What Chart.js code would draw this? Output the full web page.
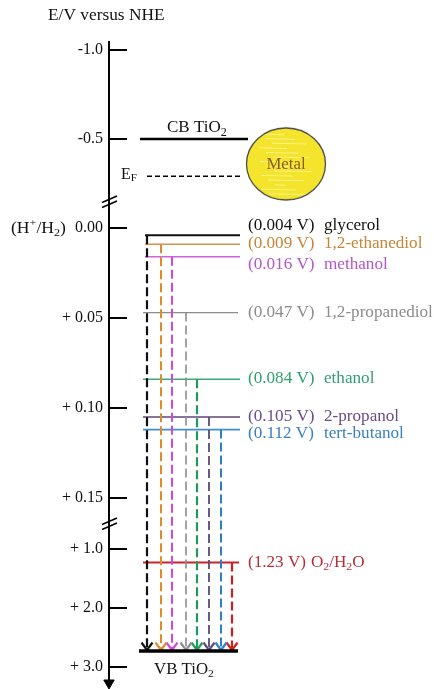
<!DOCTYPE html>
<html><head><meta charset="utf-8">
<script src="https://cdn.jsdelivr.net/npm/chart.js@4"></script>
<style>html,body{margin:0;padding:0;background:#fff}#wrap{width:434px;height:689px}</style>
</head><body><div id="wrap"><canvas id="c" width="434" height="689"></canvas></div>
<script>
// ---------------- data ----------------
const SPECIES = ['glycerol','1,2-ethanediol','methanol','1,2-propanediol','ethanol','2-propanol','tert-butanol','O₂/H₂O'];
const POTENTIALS = [0.004, 0.009, 0.016, 0.047, 0.084, 0.105, 0.112, 1.23];
const CB_TIO2 = -0.5;
const E_FERMI = -0.29;
const VB_TIO2 = 2.73;
const METAL_LEVEL = -0.36;
const TICK_VALUES = [-1.0, -0.5, 0.00, 0.05, 0.10, 0.15, 1.0, 2.0, 3.0];
const TICK_LABELS = ['-1.0', '-0.5', '0.00', '+ 0.05', '+ 0.10', '+ 0.15', '+ 1.0', '+ 2.0', '+ 3.0'];

// ---------------- layout / style ----------------
const FONT = '"Liberation Serif", "Times New Roman", serif';
// broken axis: [from value, to value, pixel height]
const SEGMENTS = [[-1.045, -0.146, 160], [-0.01444, 0.16444, 322], [0.5763, 3.271, 159]];
const TOTAL = SEGMENTS.reduce((s, g) => s + g[2], 0);
const LINE_COLORS  = ['#111111','#D6944A','#D062DE','#8C8C8C','#3DAA7A','#5E4678','#3F8FD2','#C8242C'];
const ARROW_COLORS = ['#111111','#E08A2A','#D048DE','#8C8C8C','#1E9A5A','#5A4A70','#2A7FCC','#CC2020'];
const TEXT_COLORS  = ['#111111','#C4863A','#B455CC','#8C8C8C','#2F9E70','#6A4C86','#3A7FC0','#B52F38'];
const LEVEL_X0 = [36, 36, 36, 34, 34, 34, 34, 34];
const LEVEL_X1 = [131, 131, 131, 129, 131, 131, 131, 130];
const LEVEL_W  = [2, 1.6, 1.6, 1.4, 1.6, 1.6, 1.6, 2];
const ARROW_X  = [38, 52, 63, 77, 88, 100, 112, 123];
const ARROW_W  = [2.2, 2, 2, 1.6, 2.2, 1.8, 2, 2.2];
const LABEL_DY = [-9, 0, 8, 0, 0, 0, 4, 0];
const VALUE_X = 139, NAME_X = 215;
const LABEL_STRETCH = 1.07;

function valueToDecimal(v) {
  let cum = 0;
  for (let k = 0; k < SEGMENTS.length; k++) {
    const [a, b, h] = SEGMENTS[k];
    const last = k === SEGMENTS.length - 1;
    if (v <= b || last) {
      const t = (k === 0 || v >= a) ? (v - a) / (b - a) : 0;
      return (cum + t * h) / TOTAL;
    }
    cum += h;
  }
}
function decimalToValue(d) {
  let p = d * TOTAL, cum = 0;
  for (let k = 0; k < SEGMENTS.length; k++) {
    const [a, b, h] = SEGMENTS[k];
    if (p <= cum + h || k === SEGMENTS.length - 1) return a + (p - cum) / h * (b - a);
    cum += h;
  }
}

class BrokenScale extends Chart.LinearScale {
  static id = 'broken';
  static defaults = {};
  buildTicks() { return TICK_VALUES.map(v => ({ value: v })); }
  getPixelForValue(v) {
    if (v === null || v === undefined || isNaN(v)) return NaN;
    return this.getPixelForDecimal(valueToDecimal(v));
  }
  getValueForPixel(p) { return decimalToValue(this.getDecimalForPixel(p)); }
}
Chart.register(BrokenScale);

function makeArrowhead(color, lw) {
  const c = document.createElement('canvas');
  c.width = 16; c.height = 22;
  const g = c.getContext('2d');
  g.strokeStyle = color; g.lineWidth = lw; g.lineJoin = 'miter';
  g.beginPath(); g.moveTo(2.5, 2.5); g.lineTo(8, 10); g.lineTo(13.5, 2.5); g.stroke();
  return c;
}
function makeMetal() {
  const c = document.createElement('canvas');
  c.width = 84; c.height = 76;
  const g = c.getContext('2d');
  g.beginPath(); g.ellipse(42, 38, 39.5, 36, 0, 0, Math.PI * 2);
  g.fillStyle = '#F4E52C'; g.fill();
  g.save(); g.clip();
  g.strokeStyle = 'rgba(255,255,210,0.55)'; g.lineWidth = 1;
  for (let k = 0; k < 14; k++) {
    const yy = 8 + k * 4.6;
    g.beginPath(); g.moveTo(14 + (k * 7) % 20, yy); g.lineTo(40 + (k * 11) % 30, yy + 0.8); g.stroke();
  }
  g.restore();
  g.beginPath(); g.ellipse(42, 38, 39.5, 36, 0, 0, Math.PI * 2);
  g.strokeStyle = '#4a4a4a'; g.lineWidth = 1.3; g.stroke();
  return c;
}

const SUBS = {'₀':'0','₁':'1','₂':'2','₃':'3','₄':'4'};
const SUPS = {'⁺':'+','⁻':'-'};
function parseRich(str) {
  const parts = [];
  for (const ch of str) {
    let mode = '', t = ch;
    if (SUBS[ch]) { mode = 'sub'; t = SUBS[ch]; }
    else if (SUPS[ch]) { mode = 'sup'; t = SUPS[ch]; }
    const last = parts[parts.length - 1];
    if (last && last[1] === mode) last[0] += t; else parts.push([t, mode]);
  }
  return parts;
}
function drawRich(ctx, parts, x, y, size, color, align, sx) {
  sx = sx || 1;
  ctx.save();
  ctx.fillStyle = color;
  ctx.textBaseline = 'middle';
  ctx.textAlign = 'left';
  const fontFor = m => (m ? Math.round(size * 0.68) : size) + 'px ' + FONT;
  let w = 0;
  for (const [t, m] of parts) { ctx.font = fontFor(m); w += ctx.measureText(t).width; }
  const x0 = align === 'center' ? x - w * sx / 2 : x;
  ctx.translate(x0, y);
  ctx.scale(sx, 1);
  let cx = 0;
  for (const [t, m] of parts) {
    ctx.font = fontFor(m);
    const dy = m === 'sub' ? size * 0.26 : m === 'sup' ? -size * 0.38 : 0;
    ctx.fillText(t, cx, dy);
    cx += ctx.measureText(t).width;
  }
  ctx.restore();
  return x0 + cx * sx;
}
function fmtV(v) { return '(' + (Math.abs(v) >= 1 ? v.toFixed(2) : v.toFixed(3)) + ' V)'; }

// ---------------- datasets ----------------
const datasets = [];
datasets.push({ // metal particle
  data: [{ x: 177, y: METAL_LEVEL }], pointStyle: makeMetal(), pointRadius: 30, order: 0, showLine: false
});
datasets.push({ // CB
  data: [{ x: 31, y: CB_TIO2 }, { x: 139, y: CB_TIO2 }], borderColor: '#000', borderWidth: 2.5,
  pointRadius: 0, showLine: true, order: 5
});
datasets.push({ // Fermi level
  data: [{ x: 38, y: E_FERMI }, { x: 134, y: E_FERMI }], borderColor: '#000', borderWidth: 1.5,
  borderDash: [5, 3], pointRadius: 0, showLine: true, order: 5
});
SPECIES.forEach((s, i) => {
  datasets.push({
    label: s,
    data: [{ x: LEVEL_X0[i], y: POTENTIALS[i] }, { x: LEVEL_X1[i], y: POTENTIALS[i] }],
    borderColor: LINE_COLORS[i], borderWidth: LEVEL_W[i], pointRadius: 0, showLine: true, order: 4
  });
  datasets.push({
    data: [{ x: ARROW_X[i], y: POTENTIALS[i] }, { x: ARROW_X[i], y: VB_TIO2 }],
    borderColor: ARROW_COLORS[i], borderWidth: ARROW_W[i], borderDash: [9, 4], showLine: true,
    pointRadius: [0, 5], pointStyle: ['circle', makeArrowhead(ARROW_COLORS[i], 2.2)], order: 3
  });
});
datasets.push({ // VB
  data: [{ x: 30, y: VB_TIO2 }, { x: 129, y: VB_TIO2 }], borderColor: '#000', borderWidth: 3.5,
  pointRadius: 0, showLine: true, order: 1
});
datasets.push({ // axis arrow head
  data: [{ x: 0, y: SEGMENTS[SEGMENTS.length - 1][1] }], pointStyle: 'triangle', rotation: 180,
  pointRadius: 6, backgroundColor: '#000', borderColor: '#000', borderWidth: 1, clip: false, order: 0
});

const annotate = {
  id: 'annotate',
  afterDraw(chart) {
    const { ctx, scales: { x, y } } = chart;
    ctx.save();
    // title
    drawRich(ctx, [['E/V versus NHE', '']], 48, 16, 17, '#111', 'left', 1.02);
    // H+/H2
    drawRich(ctx, parseRich('(H⁺/H₂)'), 11, y.getPixelForValue(0) + 1, 16, '#111', 'left', 1.1);
    // species labels
    SPECIES.forEach((s, i) => {
      const py = y.getPixelForValue(POTENTIALS[i]) + LABEL_DY[i];
      const end = drawRich(ctx, [[fmtV(POTENTIALS[i]), '']], x.getPixelForValue(VALUE_X), py, 16, TEXT_COLORS[i], 'left', LABEL_STRETCH);
      const nx = POTENTIALS[i] >= 1 ? end + 5 : x.getPixelForValue(NAME_X);
      drawRich(ctx, parseRich(s), nx, py, 16, TEXT_COLORS[i], 'left', LABEL_STRETCH);
    });
    // CB / EF / VB / Metal
    drawRich(ctx, parseRich('CB TiO₂'), x.getPixelForValue(58), y.getPixelForValue(CB_TIO2) - 11, 17, '#111', 'left');
    drawRich(ctx, [['E', ''], ['F', 'sub']], x.getPixelForValue(12), y.getPixelForValue(E_FERMI) - 2, 16, '#111', 'left');
    drawRich(ctx, parseRich('VB TiO₂'), x.getPixelForValue(45), y.getPixelForValue(VB_TIO2) + 19, 16, '#111', 'left', 1.05);
    drawRich(ctx, [['Metal', '']], x.getPixelForValue(177), y.getPixelForValue(METAL_LEVEL) + 1, 16, '#8A5A1C', 'center', 1.05);
    // axis breaks
    ctx.strokeStyle = '#000'; ctx.lineWidth = 1.5;
    const ax = x.getPixelForValue(0);
    let cum = 0;
    for (let k = 0; k < SEGMENTS.length - 1; k++) {
      cum += SEGMENTS[k][2];
      const by = y.getPixelForDecimal(cum / TOTAL);
      for (let j = 0; j < 2; j++) {
        const o = (j - 0.5) * 5;
        ctx.beginPath(); ctx.moveTo(ax - 7, by + o + 3); ctx.lineTo(ax + 8, by + o - 3.5); ctx.stroke();
      }
    }
    ctx.restore();
  }
};

new Chart(document.getElementById('c'), {
  type: 'scatter',
  data: { datasets },
  options: {
    responsive: false, animation: false, devicePixelRatio: 1, events: [],
    layout: { autoPadding: false, padding: { left: 0, right: 0, top: 42, bottom: 6 } },
    plugins: { legend: { display: false }, tooltip: { enabled: false } },
    scales: {
      x: { type: 'linear', min: 0, max: 325, display: false },
      y: {
        type: 'broken', reverse: true, min: SEGMENTS[0][0], max: SEGMENTS[SEGMENTS.length - 1][1],
        position: 'left',
        afterFit: s => { s.width = 109; s.paddingTop = 0; s.paddingBottom = 0; },
        border: { display: true, color: '#000', width: 2 },
        grid: { display: true, drawOnChartArea: false, drawTicks: true, tickLength: -18, lineWidth: 2, color: '#000' },
        ticks: { autoSkip: false, padding: 24, color: '#111', font: { family: FONT, size: 16 },
                 callback: (v, i) => TICK_LABELS[i] }
      }
    }
  },
  plugins: [annotate]
});
</script>
</body></html>
